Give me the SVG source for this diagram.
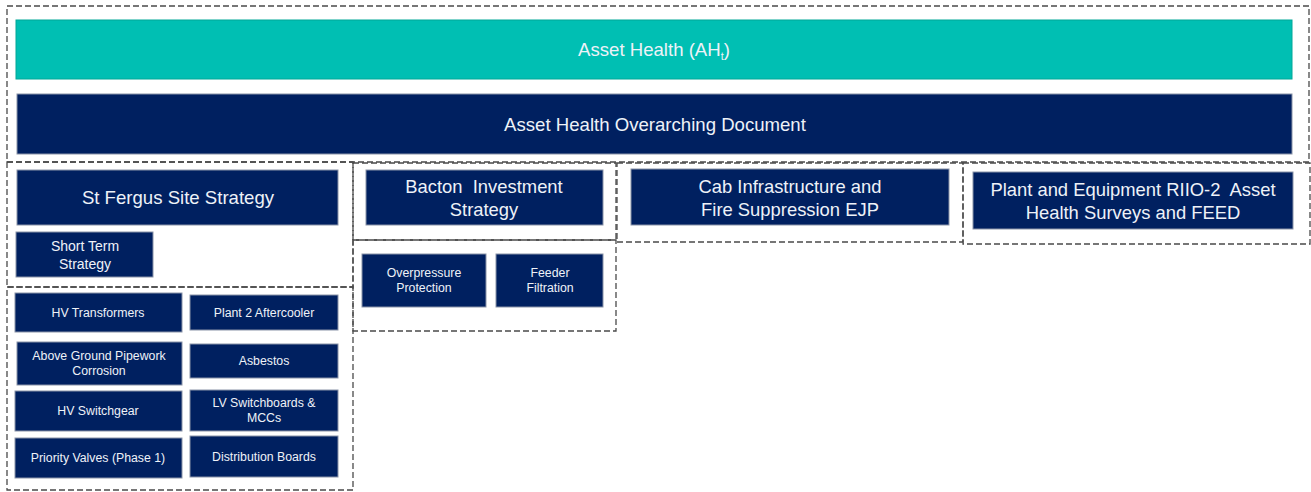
<svg xmlns="http://www.w3.org/2000/svg" width="1311" height="492" viewBox="0 0 1311 492">
<style>
.nv{fill:#002060;stroke:#8a93a8;stroke-width:1}
.tl{fill:#00bfb3;stroke:#00a898;stroke-width:1}
.ds{fill:none;stroke:#4a4a4a;stroke-width:1.3;stroke-dasharray:6 3}
text{font-family:"Liberation Sans",Arial,sans-serif;fill:#eef2f8;text-anchor:middle}
.b{font-size:18.6px}
.m{font-size:18.4px}
.s{font-size:12.3px}
.st{font-size:14px}
</style>
<g id="frames">
<rect class="ds" x="7" y="6" width="1302" height="156"/>
<rect class="ds" x="7" y="162" width="346" height="125"/>
<rect class="ds" x="7" y="287" width="346" height="203"/>
<rect class="ds" x="353" y="163" width="263" height="77"/>
<rect class="ds" x="353" y="240" width="263" height="91"/>
<rect class="ds" x="617" y="163" width="346" height="79"/>
<rect class="ds" x="963" y="163" width="347" height="81"/>
</g>
<g id="asset-health">
<rect class="tl" x="16" y="20" width="1276" height="59"/>
<text class="b" x="654" y="56">Asset Health (AH<tspan font-size="11" dy="4">t</tspan><tspan dy="-4">)</tspan></text>
</g>
<g id="overarching">
<rect class="nv" x="17" y="94" width="1275" height="60"/>
<text class="b" x="655" y="131">Asset Health Overarching Document</text>
</g>
<g id="st-fergus">
<rect class="nv" x="17" y="170" width="321" height="55"/>
<text class="b" x="178" y="204">St Fergus Site Strategy</text>
</g>
<g id="short-term">
<rect class="nv" x="16" y="232" width="137" height="45"/>
<text class="st" x="85" y="251">Short Term</text>
<text class="st" x="85" y="269">Strategy</text>
</g>
<g id="hv-transformers">
<rect class="nv" x="15" y="293" width="167" height="39"/>
<text class="s" x="98" y="317">HV Transformers</text>
</g>
<g id="plant2">
<rect class="nv" x="190" y="295" width="148" height="35"/>
<text class="s" x="264" y="317">Plant 2 Aftercooler</text>
</g>
<g id="above-ground">
<rect class="nv" x="17" y="342" width="165" height="43"/>
<text class="s" x="99" y="360">Above Ground Pipework</text>
<text class="s" x="99" y="375">Corrosion</text>
</g>
<g id="asbestos">
<rect class="nv" x="190" y="344" width="148" height="34"/>
<text class="s" x="264" y="365">Asbestos</text>
</g>
<g id="hv-switchgear">
<rect class="nv" x="15" y="391" width="167" height="40"/>
<text class="s" x="98" y="415">HV Switchgear</text>
</g>
<g id="lv-switchboards">
<rect class="nv" x="190" y="390" width="148" height="41"/>
<text class="s" x="264" y="407">LV Switchboards &amp;</text>
<text class="s" x="264" y="422">MCCs</text>
</g>
<g id="priority-valves">
<rect class="nv" x="15" y="438" width="167" height="40"/>
<text class="s" x="98" y="462">Priority Valves (Phase 1)</text>
</g>
<g id="distribution">
<rect class="nv" x="190" y="436" width="148" height="41"/>
<text class="s" x="264" y="461">Distribution Boards</text>
</g>
<g id="bacton">
<rect class="nv" x="366" y="170" width="237" height="55"/>
<text class="m" x="484" y="193" xml:space="preserve">Bacton  Investment</text>
<text class="m" x="484" y="216">Strategy</text>
</g>
<g id="overpressure">
<rect class="nv" x="362" y="254" width="124" height="53"/>
<text class="s" x="424" y="277">Overpressure</text>
<text class="s" x="424" y="292">Protection</text>
</g>
<g id="feeder">
<rect class="nv" x="496" y="254" width="107" height="53"/>
<text class="s" x="550" y="277">Feeder</text>
<text class="s" x="550" y="292">Filtration</text>
</g>
<g id="cab">
<rect class="nv" x="631" y="169" width="318" height="56"/>
<text class="m" x="790" y="193">Cab Infrastructure and</text>
<text class="m" x="790" y="216">Fire Suppression EJP</text>
</g>
<g id="plant-equipment">
<rect class="nv" x="973" y="172" width="320" height="57"/>
<text class="m" x="1133" y="196" xml:space="preserve">Plant and Equipment RIIO-2  Asset</text>
<text class="m" x="1133" y="219">Health Surveys and FEED</text>
</g>
<g id="connectors"/>
</svg>
